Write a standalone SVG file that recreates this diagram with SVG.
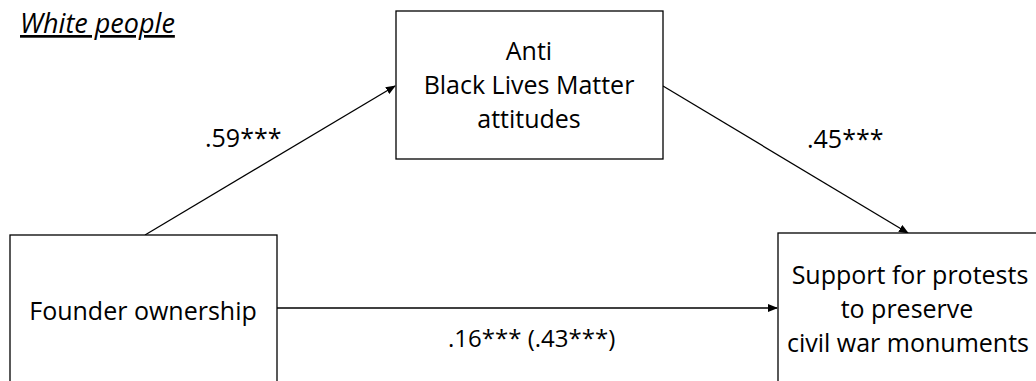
<svg xmlns="http://www.w3.org/2000/svg" width="1036" height="381" viewBox="0 0 1036 381">
<style>
.box{fill:#fff;stroke:#000;stroke-width:1.3}
.t{font-family:"Open Sans","Liberation Sans",sans-serif;font-size:25px;fill:#000}
.m{text-anchor:middle}
.edge{stroke:#000;stroke-width:1.3;fill:none}
</style>
<defs>
<marker id="arr" markerWidth="10" markerHeight="8" refX="9" refY="4" orient="auto" markerUnits="userSpaceOnUse">
<path d="M0,0 L10,4 L0,8 z" fill="#000"/>
</marker>
</defs>
<rect width="1036" height="381" fill="#fff"/>
<g id="title">
<text class="t" x="20" y="33" font-size="27" style="font-size:27px" font-style="italic" text-decoration="underline">White people</text>
</g>
<g id="connectors">
<line class="edge" x1="145" y1="235" x2="395" y2="86" marker-end="url(#arr)"/>
<line class="edge" x1="663" y1="86" x2="908" y2="233" marker-end="url(#arr)"/>
<line class="edge" x1="277" y1="308" x2="777" y2="308" marker-end="url(#arr)"/>
<text class="t" x="205" y="147">.59***</text>
<text class="t" x="807" y="148">.45***</text>
<text class="t" x="448" y="347" style="font-size:24px">.16*** (.43***)</text>
</g>
<g id="node-anti">
<rect class="box" x="396" y="11" width="267" height="148"/>
<text class="t m" x="529" y="60">Anti</text>
<text class="t m" x="529" y="94">Black Lives Matter</text>
<text class="t m" x="529" y="128">attitudes</text>
</g>
<g id="node-founder">
<rect class="box" x="10" y="235" width="267" height="160"/>
<text class="t m" x="143" y="320">Founder ownership</text>
</g>
<g id="node-support">
<rect class="box" x="778" y="233" width="270" height="160"/>
<text class="t m" x="910" y="284">Support for protests</text>
<text class="t m" x="907" y="318">to preserve</text>
<text class="t m" x="908" y="352">civil war monuments</text>
</g>
</svg>
